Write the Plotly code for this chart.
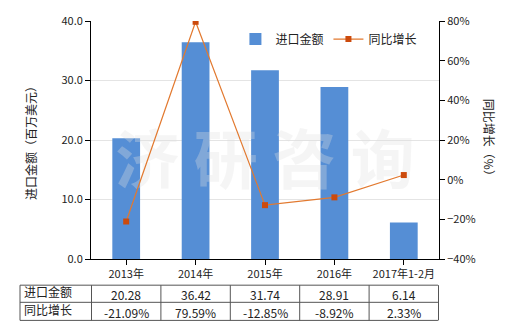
import plotly.graph_objects as go

categories = ["2013年", "2014年", "2015年", "2016年", "2017年1-2月"]
import_value = [20.28, 36.42, 31.74, 28.91, 6.14]
growth = [-21.09, 79.59, -12.85, -8.92, 2.33]
row_labels = ["进口金额", "同比增长"]
value_text = ["20.28", "36.42", "31.74", "28.91", "6.14"]
growth_text = ["-21.09%", "79.59%", "-12.85%", "-8.92%", "2.33%"]

FONT = "Noto Sans CJK SC"
TXT = "#222222"

fig = go.Figure()
fig.add_trace(go.Bar(
    x=categories, y=import_value, name="进口金额",
    marker=dict(color="#558ed5", line=dict(width=0)),
    width=0.4, yaxis="y",
))
fig.add_trace(go.Scatter(
    x=[categories[2]], y=[15.5], mode="text", text=["济 研 咨 询"],
    textfont=dict(family=FONT, size=64, color="rgba(225,225,225,0.32)", weight="bold"),
    showlegend=False, hoverinfo="skip", yaxis="y",
))
fig.add_trace(go.Scatter(
    x=categories, y=growth, name="同比增长", mode="lines+markers",
    line=dict(color="#e2792f", width=1.2),
    marker=dict(symbol="square", size=6, color="#cc4a0c"),
    yaxis="y2",
))

annotations = []
shapes = []
# axis titles
annotations.append(dict(text="进口金额（百万美元）", xref="paper", yref="paper",
                        x=-0.175, y=0.5, xanchor="center", yanchor="middle",
                        showarrow=False, textangle=-90,
                        font=dict(family=FONT, size=12, color=TXT)))
annotations.append(dict(text="同比增长（%）", xref="paper", yref="paper",
                        x=1.147, y=0.5, xanchor="center", yanchor="middle",
                        showarrow=False, textangle=90,
                        font=dict(family=FONT, size=12, color=TXT)))

# table
y_top, y_mid, y_bot = -0.11, -0.182, -0.258
x_left = -0.204
line = dict(color="#555555", width=1)
for yy in (y_top, y_mid, y_bot):
    shapes.append(dict(type="line", xref="paper", yref="paper", x0=x_left, x1=0.997,
                       y0=yy, y1=yy, line=line))
shapes.append(dict(type="line", xref="paper", yref="paper", x0=x_left, x1=x_left,
                   y0=y_top, y1=y_bot, line=line))
for i in range(len(categories) + 1):
    shapes.append(dict(type="line", xref="x", yref="paper", x0=i - 0.5, x1=i - 0.5,
                       y0=y_top, y1=y_bot, line=line))
for r, (lab, texts) in enumerate(zip(row_labels, [value_text, growth_text])):
    yc = (y_top + y_mid) / 2 if r == 0 else (y_mid + y_bot) / 2
    annotations.append(dict(text=lab, xref="paper", yref="paper", x=x_left + 0.006,
                            y=yc + 0.008, xanchor="left", yanchor="middle", showarrow=False,
                            font=dict(family=FONT, size=12, color=TXT)))
    for c, t in zip(categories, texts):
        annotations.append(dict(text=t, xref="x", yref="paper", x=c, y=yc - 0.004,
                                xanchor="center", yanchor="middle",
                                showarrow=False, font=dict(family=FONT, size=12, color=TXT)))

fig.update_layout(
    width=520, height=330,
    margin=dict(l=91, r=81, t=19, b=71),
    paper_bgcolor="white", plot_bgcolor="white",
    font=dict(family=FONT, size=11, color=TXT),
    bargap=0.6,
    xaxis=dict(type="category", showline=True, linecolor="#000", linewidth=1,
               ticks="outside", ticklen=5, tickcolor="#000",
               tickfont=dict(family=FONT, size=11, color=TXT), fixedrange=True),
    yaxis=dict(range=[0, 40], dtick=10, tickformat=".1f", showline=True, linecolor="#000",
               linewidth=1, ticks="outside", ticklen=5, tickcolor="#000",
               showgrid=True, gridcolor="#e4e4e4", zeroline=False,
               tickfont=dict(family=FONT, size=11, color=TXT)),
    yaxis2=dict(range=[-40, 80], dtick=20, ticksuffix="%", overlaying="y", side="right",
                showline=True, linecolor="#000", linewidth=1, ticks="outside", ticklen=5,
                tickcolor="#000", showgrid=False, zeroline=False,
                tickfont=dict(family=FONT, size=11, color=TXT)),
    legend=dict(orientation="h", x=0.415, y=0.985, xanchor="left", yanchor="top",
                bgcolor="rgba(0,0,0,0)", font=dict(family=FONT, size=12, color=TXT),
                itemwidth=30, tracegroupgap=0),
    annotations=annotations, shapes=shapes,
)

fig.write_html("out.html")
